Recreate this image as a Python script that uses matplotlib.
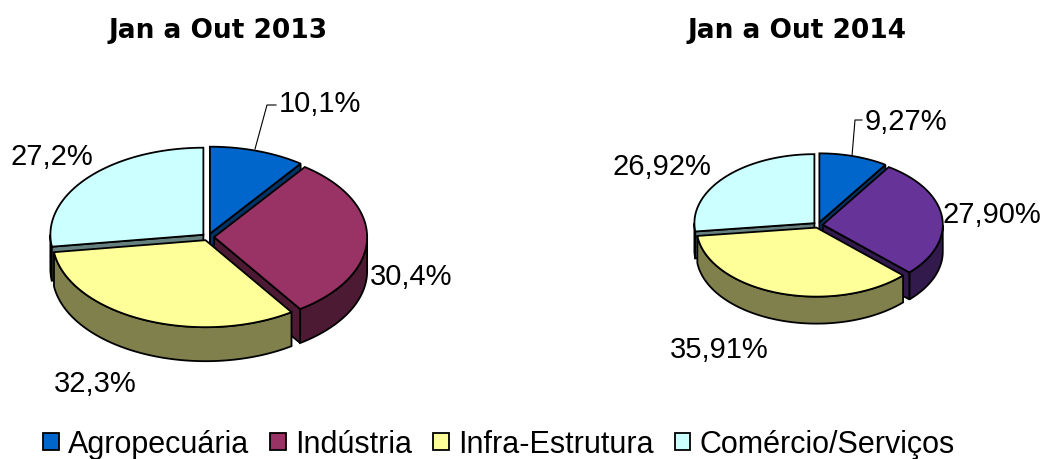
import matplotlib.pyplot as plt
import numpy as np
from matplotlib.patches import Polygon, Patch
from matplotlib.colors import to_rgb

plt.rcParams['font.family'] = ['Liberation Sans', 'DejaVu Sans']

categories = ["Agropecuária", "Indústria", "Infra-Estrutura", "Comércio/Serviços"]
titles = ["Jan a Out 2013", "Jan a Out 2014"]
values_2013 = [10.1, 30.4, 32.3, 27.2]
values_2014 = [9.27, 27.90, 35.91, 26.92]
labels_2013 = ["10,1%", "30,4%", "32,3%", "27,2%"]
labels_2014 = ["9,27%", "27,90%", "35,91%", "26,92%"]
colors_2013 = ["#0066cc", "#993366", "#ffff99", "#ccffff"]
colors_2014 = ["#0066cc", "#663399", "#ffff99", "#ccffff"]

fig = plt.figure(figsize=(10.48, 4.6), dpi=100)
ax = fig.add_axes([0, 0, 1, 1])
ax.set_xlim(0, 1048)
ax.set_ylim(460, 0)
ax.axis('off')


def darker(c, f=0.5):
    r, g, b = to_rgb(c)
    return (r * f, g * f, b * f)


def pie3d(values, colors, cx, cy, rx, ry, depth, explode=0.04):
    vals = np.array(values, dtype=float)
    frac = vals / vals.sum()
    ends = np.cumsum(frac)
    starts = ends - frac
    n = len(vals)
    for i in range(n):
        a0 = np.pi / 2 - 2 * np.pi * starts[i]   # clockwise from the top
        a1 = np.pi / 2 - 2 * np.pi * ends[i]
        mid = (a0 + a1) / 2
        ox = cx + rx * explode * np.cos(mid)
        oy = cy - ry * explode * np.sin(mid)
        t = np.linspace(a0, a1, 200)
        xs = ox + rx * np.cos(t)
        ys = oy - ry * np.sin(t)
        top = np.column_stack([np.r_[ox, xs], np.r_[oy, ys]])
        ax.add_patch(Polygon(top, closed=True, fc=colors[i], ec='black', lw=1.3, zorder=10))
        side = darker(colors[i])
        # back slices' walls go underneath the front ones
        wz = 2 + (-np.sin(mid))
        front = t[np.sin(t) <= 0]
        if len(front) > 1:
            fx = ox + rx * np.cos(front)
            fy = oy - ry * np.sin(front)
            pts = np.column_stack([np.r_[fx, fx[::-1]], np.r_[fy, fy[::-1] + depth]])
            ax.add_patch(Polygon(pts, closed=True, fc=side, ec='black', lw=1.3, zorder=wz))
        for ang, sgn in ((a0, 1), (a1, -1)):
            if sgn * np.cos(ang) < -1e-6:
                px = ox + rx * np.cos(ang)
                py = oy - ry * np.sin(ang)
                pts = [(ox, oy), (px, py), (px, py + depth), (ox, oy + depth)]
                ax.add_patch(Polygon(pts, closed=True, fc=side, ec='black', lw=1.3, zorder=wz + 0.1))


pie3d(values_2013, colors_2013, 208, 238, 153, 87, 34)
pie3d(values_2014, colors_2014, 818, 226, 120, 69, 27)

# titles
for t, x in zip(titles, [218, 797]):
    ax.text(x, 31, t, ha='center', va='center', fontsize=19, fontweight='bold',
            family=['DejaVu Sans'])

# data labels
lab_kw = dict(fontsize=21, va='center')
ax.text(279, 104, labels_2013[0], ha='left', **lab_kw)
ax.plot([276, 267, 255], [106, 106, 150], color='black', lw=0.8, zorder=12)
ax.text(411, 277, labels_2013[1], ha='center', **lab_kw)
ax.text(95, 384, labels_2013[2], ha='center', **lab_kw)
ax.text(52, 157, labels_2013[3], ha='center', **lab_kw)

ax.text(865, 122, labels_2014[0], ha='left', **lab_kw)
ax.plot([862, 855, 852], [121, 121, 157], color='black', lw=0.8, zorder=12)
ax.text(992, 215, labels_2014[1], ha='center', **lab_kw)
ax.text(719, 350, labels_2014[2], ha='center', **lab_kw)
ax.text(662, 167, labels_2014[3], ha='center', **lab_kw)

handles = [Patch(fc=c, ec='black', lw=1.3) for c in colors_2013]
fig.legend(handles, categories, loc='lower center', bbox_to_anchor=(0.476, -0.06), ncol=4,
           frameon=False, fontsize=22, handlelength=0.5, handleheight=0.5,
           handletextpad=0.3, columnspacing=0.7)

fig.savefig("out.png", dpi=100)
